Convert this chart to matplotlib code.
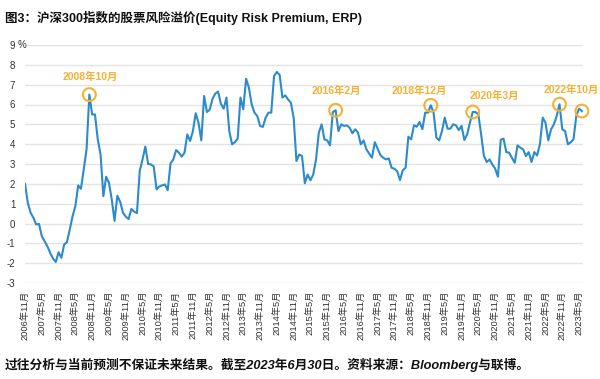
import numpy as np
import pandas as pd
import matplotlib
matplotlib.use("Agg")
import matplotlib.pyplot as plt

plt.rcParams["font.family"] = ["Liberation Sans", "Noto Sans CJK SC", "DejaVu Sans"]

# 月度数据：2006年11月 ~ 2023年6月，单位 %
start_month = "2006-11"
erp = [
    2.0, 1.04, 0.54, 0.29, -0.05, -0.02, -0.64, -0.9, -1.15, -1.48,
    -1.77, -1.94, -1.45, -1.73, -1.06, -0.94, -0.3, 0.37, 0.88, 1.92,
    1.75, 2.73, 3.74, 6.5, 5.5, 5.5, 4.24, 3.48, 1.38, 2.36,
    2.05, 1.21, 0.13, 1.4, 1.1, 0.55, 0.35, 0.22, 0.73, 0.6,
    0.52, 2.65, 3.23, 3.88, 3.0, 2.98, 2.88, 1.72, 1.87, 1.92,
    1.97, 1.68, 3.03, 3.23, 3.7, 3.57, 3.37, 3.57, 4.49, 4.16,
    4.66, 5.56, 5.08, 4.19, 6.43, 5.62, 5.74, 6.28, 6.55, 6.65,
    6.04, 5.79, 6.35, 4.66, 3.99, 4.1, 4.28, 6.35, 5.76, 7.3,
    6.85, 6.01, 5.59, 5.42, 4.92, 4.87, 5.34, 5.59, 5.59, 7.44,
    7.64, 7.49, 6.35, 6.46, 6.26, 6.09, 5.34, 3.15, 3.48, 3.4,
    2.03, 2.47, 2.18, 2.47, 3.23, 4.58, 5.0, 4.24, 4.19, 3.94,
    5.62, 5.71, 4.66, 5.0, 4.92, 4.95, 4.83, 4.55, 4.75, 4.58,
    3.99, 4.19, 3.74, 3.52, 3.32, 4.1, 3.77, 3.45, 3.32, 3.23,
    3.28, 2.81, 2.76, 2.64, 2.19, 2.68, 2.81, 4.38, 4.24, 4.95,
    4.88, 5.12, 4.75, 5.59, 5.59, 5.96, 5.59, 4.33, 4.19, 4.66,
    5.34, 4.78, 4.78, 5.0, 4.95, 4.71, 4.92, 4.21, 4.49, 5.08,
    5.62, 5.62, 5.5, 4.49, 3.4, 3.1, 3.23, 2.98, 2.77, 2.36,
    4.22, 4.28, 3.6, 3.57, 3.32, 3.06, 3.94, 3.82, 3.74, 3.4,
    3.6, 3.1, 3.6, 3.43, 3.99, 5.34, 5.08, 4.19, 4.75, 5.0,
    5.42, 6.01, 4.75, 4.66, 3.99, 4.1, 4.24, 5.42, 5.79, 5.67,
]

# 圈出的高点
circled = ["2008-10", "2016-02", "2018-12", "2020-03", "2022-10", "2023-06"]
# 标注文字 (文字, 对应月份)
labels = [("2008年10月", "2008-10"), ("2016年2月", "2016-02"), ("2018年12月", "2018-12"),
          ("2020年3月", "2020-03"), ("2022年10月", "2022-10")]
# 标注文字相对位置偏移 (月, %)
label_offsets = [(0.3, 0.92), (0.1, 0.96), (-4.1, 0.71), (7.7, 0.84), (4.3, 0.71)]

yticks = list(range(-3, 10))

months = pd.period_range(start_month, periods=len(erp), freq="M")
x = np.arange(len(erp))
pos = {str(p): i for i, p in enumerate(months)}

BLUE = "#2b8bcb"
ORANGE = "#f5b133"
GRID = "#e4e4e4"
TXT = "#333333"

fig = plt.figure(figsize=(6.0, 3.79), dpi=100)
ax = fig.add_axes([25 / 600, 1 - 283 / 379, 558 / 600, 238 / 379])

for y in yticks:
    ax.axhline(y, color=GRID, lw=1.0, zorder=0)

ax.plot(x, erp, color=BLUE, lw=1.5, zorder=2, solid_joinstyle="round")

# 橙色圆圈（不裁剪，最后一个点在边缘）
cx = [pos[m] for m in circled]
cy = [erp[pos[m]] for m in circled]
ax.scatter(cx, cy, s=85, facecolors="none", edgecolors=ORANGE, linewidths=1.5,
           zorder=3, clip_on=False)

for (txt, m), (dx, dy) in zip(labels, label_offsets):
    i = pos[m]
    ax.text(i + dx, erp[i] + dy, txt, color=ORANGE, fontsize=7.5, fontweight="bold",
            ha="center", va="center", zorder=4)

ax.set_xlim(0, 199.4)
ax.set_ylim(-3, 9)

tick_idx = x[::6]
ax.set_xticks(tick_idx)
ax.set_xticklabels([f"{months[i].year}年{months[i].month}月" for i in tick_idx],
                   rotation=90, fontsize=6.7, color=TXT)
ax.set_yticks(yticks)
ax.set_yticklabels([str(v) for v in yticks], fontsize=7, color=TXT)
ax.tick_params(axis="x", length=0, pad=5.5)
ax.tick_params(axis="y", length=0, pad=7)
ax.annotate("%", xy=(0, 9), xycoords=("axes fraction", "data"), xytext=(-5.2, 0),
            textcoords="offset points", ha="left", va="center", fontsize=7, color=TXT)

for s in ax.spines.values():
    s.set_visible(False)

fig.text(5 / 600, 1 - 18 / 379, "图3：沪深300指数的股票风险溢价(Equity Risk Premium, ERP)",
         fontsize=9, fontweight="bold", ha="left", va="center", color="#111111")
fig.text(5 / 600, 1 - 365 / 379,
         "过往分析与当前预测不保证未来结果。截至2023年6月30日。资料来源：Bloomberg与联博。",
         fontsize=9.2, fontweight="bold", style="italic", ha="left", va="center", color="#111111")

fig.savefig("out.png", dpi=100)
